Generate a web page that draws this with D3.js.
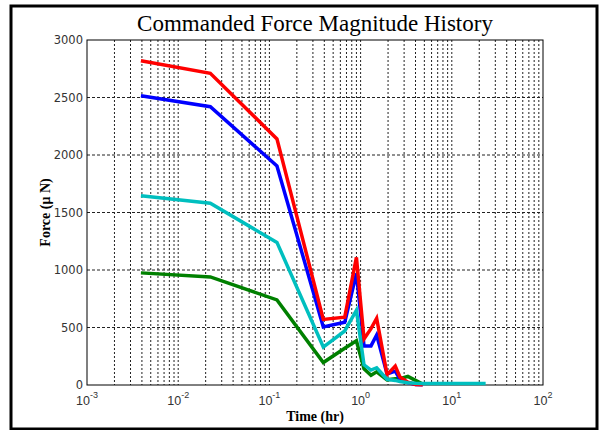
<!DOCTYPE html>
<html>
<head>
<meta charset="utf-8">
<script src="https://cdn.jsdelivr.net/npm/d3@7"></script>
<style>
	body { margin: 0; background: #fff; }
	svg { display: block; }
</style>
</head>
<body>
<div id="plot"></div>
<script>
// time (hr), shared by all series; last point only used by the cyan curve
var times = [0.0039, 0.0225, 0.121, 0.39, 0.67, 0.9, 1.09, 1.3, 1.5, 1.95, 2.4, 2.7, 3.3, 4.0, 4.8, 23.5];

var redForce   = [2820, 2710, 2140, 570, 590, 1110, 400, 490, 580, 90, 165, 70, 25, 5, 3, null];
var blueForce  = [2515, 2420, 1905, 505, 545, 970, 340, 340, 435, 95, 120, 50, 20, 5, 2, null];
var cyanForce  = [1645, 1580, 1240, 330, 470, 650, 175, 130, 150, 50, 40, 30, 20, 15, 12, 12];
var greenForce = [975, 940, 740, 195, 320, 385, 140, 85, 115, 45, 55, 55, 75, 40, 8, null];

var yTicks = [0, 500, 1000, 1500, 2000, 2500, 3000];
var xDecades = [-3, -2, -1, 0, 1, 2];

var width = 603, height = 430;
var plotLeft = 87, plotRight = 543, plotTop = 40, plotBottom = 385;

var svg = d3.select("#plot").append("svg")
	.attr("width", width)
	.attr("height", height);

// outer frame
svg.append("rect")
	.attr("x", 11).attr("y", 6)
	.attr("width", 586).attr("height", 423)
	.attr("fill", "#fff")
	.attr("stroke", "#000")
	.attr("stroke-width", 3);

var x = d3.scaleLog().domain([1e-3, 1e2]).range([plotLeft, plotRight]);
var y = d3.scaleLinear().domain([0, 3000]).range([plotBottom, plotTop]);

// grid
var grid = svg.append("g");
x.ticks().forEach(function(t){
	if (t <= 1e-3 * 1.01 || t >= 1e2 * 0.99) return;
	grid.append("line")
		.attr("x1", x(t)).attr("x2", x(t))
		.attr("y1", plotTop).attr("y2", plotBottom)
		.attr("stroke", "#222")
		.attr("stroke-width", 1)
		.attr("stroke-dasharray", "2,2");
});
yTicks.forEach(function(v){
	if (v == 0 || v == 3000) return;
	grid.append("line")
		.attr("x1", plotLeft).attr("x2", plotRight)
		.attr("y1", y(v)).attr("y2", y(v))
		.attr("stroke", "#222")
		.attr("stroke-width", 1)
		.attr("stroke-dasharray", "3,2");
});

// axes box
svg.append("rect")
	.attr("x", plotLeft).attr("y", plotTop)
	.attr("width", plotRight - plotLeft).attr("height", plotBottom - plotTop)
	.attr("fill", "none")
	.attr("stroke", "#000")
	.attr("stroke-width", 1);

// y tick labels
yTicks.forEach(function(v){
	svg.append("text")
		.text(v)
		.attr("x", plotLeft - 4)
		.attr("y", y(v))
		.attr("dy", "0.35em")
		.attr("text-anchor", "end")
		.style("font-family", "DejaVu Sans")
		.style("font-size", "11.5px")
		.style("fill", "#333");
});

// x tick labels 10^k
xDecades.forEach(function(k){
	var t = svg.append("text")
		.attr("x", x(Math.pow(10, k)))
		.attr("y", 405)
		.attr("text-anchor", "middle")
		.style("font-family", "Liberation Sans")
		.style("font-size", "12.5px")
		.style("fill", "#333");
	t.append("tspan").text("10");
	t.append("tspan").text(k).attr("dy", -7).style("font-size", "9px");
});

// titles
svg.append("text")
	.text("Commanded Force Magnitude History")
	.attr("x", (plotLeft + plotRight) / 2)
	.attr("y", 31)
	.attr("text-anchor", "middle")
	.style("font-family", "Liberation Serif")
	.style("font-size", "23px");

svg.append("text")
	.text("Time (hr)")
	.attr("x", (plotLeft + plotRight) / 2)
	.attr("y", 421)
	.attr("text-anchor", "middle")
	.style("font-family", "Liberation Serif")
	.style("font-weight", "bold")
	.style("font-size", "14px");

svg.append("text")
	.text("Force (\u03bc N)")
	.attr("transform", "translate(50," + ((plotTop + plotBottom) / 2) + ") rotate(-90)")
	.attr("text-anchor", "middle")
	.style("font-family", "Liberation Serif")
	.style("font-weight", "bold")
	.style("font-size", "14px");

// curves
var series = [
	{ values: greenForce, color: "#008000" },
	{ values: blueForce, color: "#0000ff" },
	{ values: redForce, color: "#ff0000" },
	{ values: cyanForce, color: "#00bfbf" }
];

var line = d3.line()
	.defined(function(d){ return d[1] != null; })
	.x(function(d){ return x(d[0]); })
	.y(function(d){ return y(d[1]); });

series.forEach(function(s){
	var pts = times.map(function(t, i){ return [t, s.values[i]]; });
	svg.append("path")
		.datum(pts)
		.attr("d", line)
		.attr("fill", "none")
		.attr("stroke", s.color)
		.attr("stroke-width", 3.5)
		.attr("stroke-linejoin", "miter");
});
</script>
</body>
</html>
